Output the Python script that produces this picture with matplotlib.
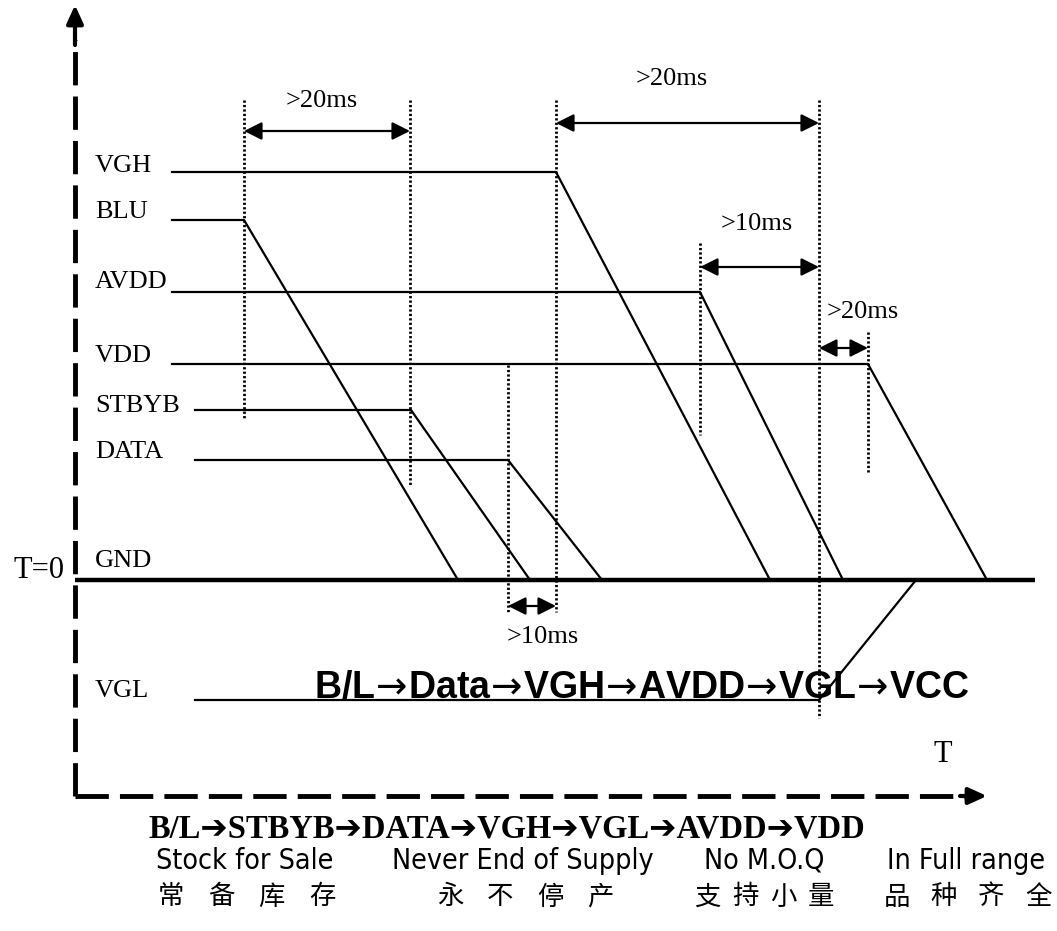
import matplotlib.pyplot as plt
import numpy as np

plt.rcParams['lines.scale_dashes'] = False

# Signal levels (top of the chart = high), times where each one starts falling
# and where it reaches GND. Units are the drawing's time/level grid.
names = ['VGH', 'BLU', 'AVDD', 'VDD', 'STBYB', 'DATA']
level = [172, 220, 292, 364, 410, 460]
start_t = [172, 172, 172, 172, 195, 195]
fall_t = [556, 244, 700, 868, 411, 508]
gnd_t = [770, 458, 843, 987, 530, 602]
label_y = [172, 218, 288, 362, 412, 458]

gnd_level = 580
vgl_level = 700
vgl_t = [195, 819, 916]

# dotted time markers: time, top, bottom
mark_t = [244, 410, 508, 556, 700, 819, 868]
mark_top = [100, 100, 365, 100, 243, 100, 332]
mark_bot = [420, 485, 612, 612, 435, 718, 473]

# delay arrows
gap_from = [244, 556, 700, 819, 508]
gap_to = [410, 819, 819, 868, 556]
gap_y = [131, 123, 267, 348, 606]
gap_text = ['>20ms', '>20ms', '>10ms', '>20ms', '>10ms']
gap_tx = [322, 672, 757, 863, 543]
gap_ty = [107, 85, 230, 318, 643]

top_steps = ['B/L', 'Data', 'VGH', 'AVDD', 'VGL', 'VCC']
bottom_steps = ['B/L', 'STBYB', 'DATA', 'VGH', 'VGL', 'AVDD', 'VDD']
slogans = ['Stock for Sale', 'Never End of Supply', 'No M.O.Q', 'In Full range']
slogan_x = [245, 523, 764, 966]
slogans_cn = ['常备库存', '永不停产', '支持小量', '品种齐全']
cn_first = [171, 450, 707, 897]
cn_last = [322, 600, 821, 1038]

serif = ['Liberation Serif', 'DejaVu Serif']

fig = plt.figure(figsize=(10.57, 9.31), dpi=100)
ax = fig.add_axes([0, 0, 1, 1])
ax.set_xlim(0, 1057)
ax.set_ylim(931, 0)
ax.axis('off')

# axes of the diagram (dashed, with arrow heads)
dash = (0, (24, 8))
ax.plot([75, 75], [796, 40], color='black', lw=3.5, linestyle=dash, solid_capstyle='butt')
ax.plot([75, 970], [796, 796], color='black', lw=3.5, linestyle=dash, solid_capstyle='butt')
ax.annotate('', xy=(75, 5), xytext=(75, 45),
            arrowprops=dict(arrowstyle='-|>,head_length=1.1,head_width=0.5', color='black',
                            lw=3, mutation_scale=10, shrinkA=0, shrinkB=0))
ax.annotate('', xy=(987, 796), xytext=(960, 796),
            arrowprops=dict(arrowstyle='-|>,head_length=1.1,head_width=0.5', color='black',
                            lw=3, mutation_scale=10, shrinkA=0, shrinkB=0))

# GND line
ax.plot([75, 1035], [gnd_level, gnd_level], color='black', lw=3.2, solid_capstyle='butt')

# signals
for n, lv, t0, t1, t2, ly in zip(names, level, start_t, fall_t, gnd_t, label_y):
    ax.plot([t0, t1, t2], [lv, lv, gnd_level], color='black', lw=1.6)
    ax.text(95, ly, n, fontsize=19, family=serif, va='baseline', ha='left')

ax.plot(vgl_t, [vgl_level, vgl_level, gnd_level], color='black', lw=1.6)
ax.text(95, 697, 'VGL', fontsize=19, family=serif, va='baseline', ha='left')
ax.text(95, 567, 'GND', fontsize=19, family=serif, va='baseline', ha='left')
ax.text(13, 578, 'T=0', fontsize=22, family=serif, va='baseline', ha='left')
ax.text(943, 762, 'T', fontsize=22, family=serif, va='baseline', ha='center')

# dotted markers
for t, y0, y1 in zip(mark_t, mark_top, mark_bot):
    ax.plot([t, t], [y0, y1], color='black', lw=2, linestyle=(0, (1.6, 1.6)))

# delay arrows and labels
for a, b, y, s, tx, ty in zip(gap_from, gap_to, gap_y, gap_text, gap_tx, gap_ty):
    ax.annotate('', xy=(b, y), xytext=(a, y),
                arrowprops=dict(arrowstyle='<|-|>,head_length=0.9,head_width=0.45',
                                color='black', lw=1.6, mutation_scale=12,
                                shrinkA=0, shrinkB=0))
    ax.text(tx, ty, s, fontsize=19, family=serif, va='baseline', ha='center')

# power-off order
ax.text(642, 698, r'$\!{\rightarrow}\!$'.join(top_steps), fontsize=27, fontweight='bold',
        family='Liberation Sans', va='baseline', ha='center')
ax.text(507, 838, '➔'.join(bottom_steps), fontsize=23.5, fontweight='bold',
        family=['Liberation Serif', 'DejaVu Sans'], va='baseline', ha='center')

for s, x in zip(slogans, slogan_x):
    ax.text(x, 869, s, fontsize=20.5, family=['Liberation Sans Narrow', 'DejaVu Sans'],
            fontstretch='condensed', va='baseline', ha='center')
for s, x0, x1 in zip(slogans_cn, cn_first, cn_last):
    for ch, x in zip(s, np.linspace(x0, x1, len(s))):
        ax.text(x, 897, ch, fontsize=19, family='Noto Sans CJK SC',
                va='center', ha='center')

fig.savefig('out.png', dpi=100)
